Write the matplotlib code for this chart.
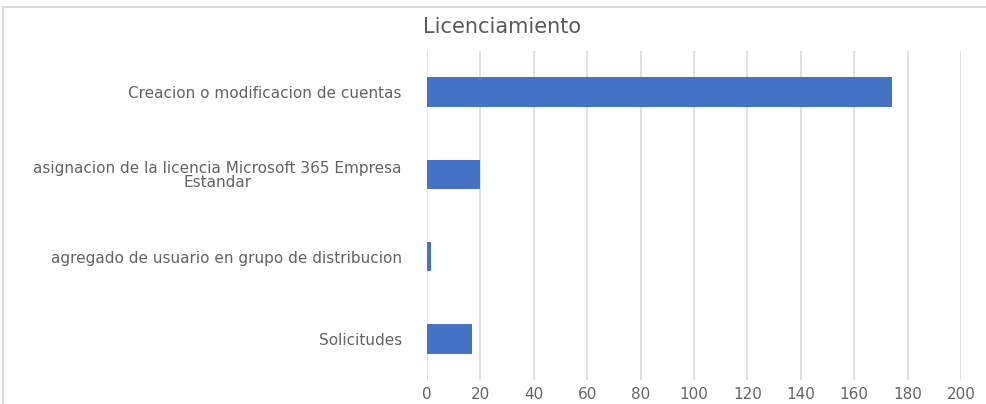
import matplotlib
matplotlib.use("Agg")
import matplotlib.pyplot as plt
from matplotlib.patches import Rectangle

# Datos
categorias = [
    "Creacion o modificacion de cuentas",
    "asignacion de la licencia Microsoft 365 Empresa\nEstandar",
    "agregado de usuario en grupo de distribucion",
    "Solicitudes",
]
valores = [174, 20, 1.5, 17]
ticks_x = [0, 20, 40, 60, 80, 100, 120, 140, 160, 180, 200]

plt.rcParams["font.family"] = "DejaVu Sans"

W, H = 987, 404
fig = plt.figure(figsize=(W / 100, H / 100), dpi=100)
ax = fig.add_axes([427 / W, 1 - 380 / H, (961 - 427) / W, (380 - 51) / H])

pos = list(range(len(categorias)))[::-1]
ax.barh(pos, valores, height=0.36, color="#4472C4", zorder=3)

ax.set_xlim(0, 200)
ax.set_ylim(-0.5, len(categorias) - 0.5)
ax.set_xticks(ticks_x)
ax.set_yticks(pos)
ax.set_yticklabels(categorias, multialignment="center", linespacing=0.95)
ax.grid(axis="x", color="#dddddd", linewidth=1.3, zorder=0)
for s in ax.spines.values():
    s.set_visible(False)
ax.tick_params(axis="both", length=0, colors="#636363", labelsize=11)
ax.tick_params(axis="y", pad=18)
ax.tick_params(axis="x", pad=5)

# Titulo
fig.text(502 / W, 1 - 27 / H, "Licenciamiento", ha="center", va="center",
         fontsize=15, color="#595959")

# Borde del grafico
fig.patches.append(Rectangle((3 / W, -0.1), 1.2, 1 - 7 / H + 0.1,
                             transform=fig.transFigure, fill=False,
                             edgecolor="#d9d9d9", linewidth=1.5))

fig.savefig("out.png", dpi=100)
